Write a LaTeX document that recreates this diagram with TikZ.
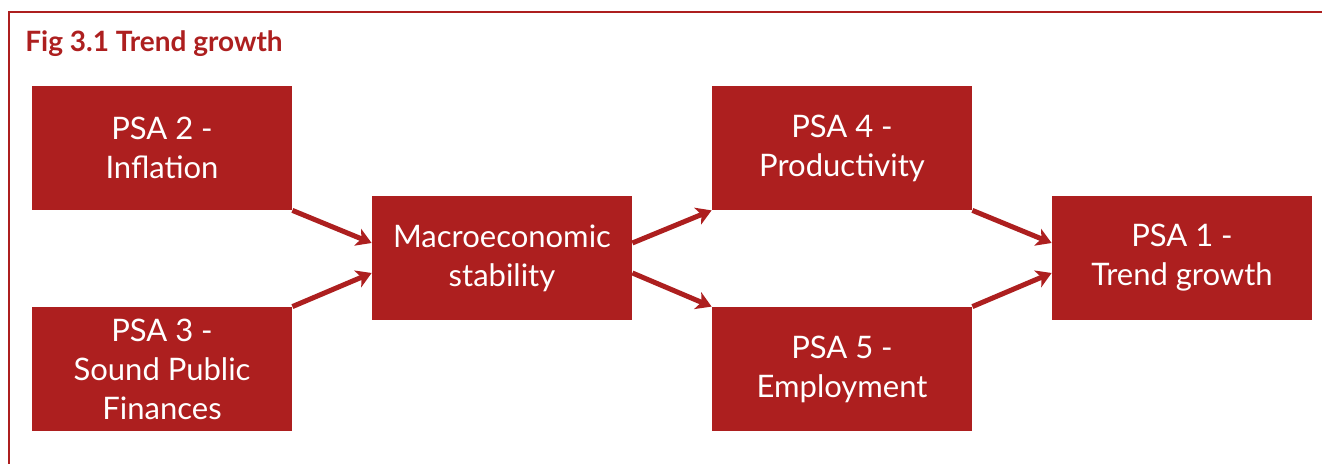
\documentclass[tikz,border=0pt]{standalone}
\usepackage{fontspec}
\setmainfont{Lato}
\usetikzlibrary{arrows.meta}
\definecolor{psared}{RGB}{173,31,31}

\begin{document}
\begin{tikzpicture}[x=0.5pt, y=0.5pt,
        psa/.style={fill=psared, text=white, minimum width=130pt, minimum height=62pt,
            inner sep=0pt, align=center, font=\fontsize{15.5}{19.5}\selectfont},
        link/.style={psared, line width=2.5pt, -{Stealth[length=7.5pt, width=9pt, inset=2pt]}}]
    % Page
    \useasboundingbox (0,0) rectangle (1322,464);

    % Frame and heading
    \draw[psared, line width=1pt] (8.5,0) -- (8.5,451.5) -- (1322,451.5);
    \node[anchor=base west, inner sep=0pt, text=psared, font=\bfseries\fontsize{14}{17}\selectfont]
        (title) at (25,412) {Fig 3.1 Trend growth};

    % Boxes
    \node[psa] (psa2) at (162,316) {PSA 2 -\\Inflation};
    \node[psa] (psa3) at (162,95) {PSA 3 -\\Sound Public\\Finances};
    \node[psa] (macro) at (502,206) {Macroeconomic\\stability};
    \node[psa] (psa4) at (842,316) {PSA 4 -\\Productivity};
    \node[psa] (psa5) at (842,95) {PSA 5 -\\Employment};
    \node[psa] (psa1) at (1182,206) {PSA 1 -\\Trend growth};

    % Links
    \draw[link] (psa2.south east) -- ([yshift=7.5pt]macro.west);
    \draw[link] (psa3.north east) -- ([yshift=-7.5pt]macro.west);
    \draw[link] ([yshift=7.5pt]macro.east) -- (psa4.south west);
    \draw[link] ([yshift=-7.5pt]macro.east) -- (psa5.north west);
    \draw[link] (psa4.south east) -- ([yshift=7.5pt]psa1.west);
    \draw[link] (psa5.north east) -- ([yshift=-7.5pt]psa1.west);
\end{tikzpicture}
\end{document}
